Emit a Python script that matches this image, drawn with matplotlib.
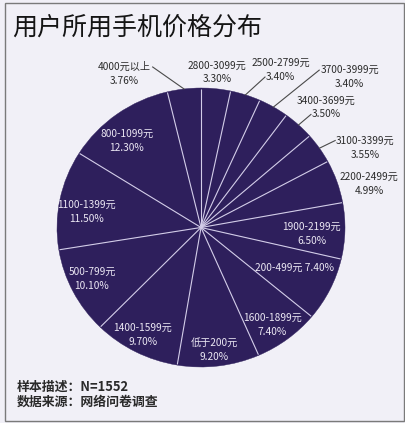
import matplotlib
matplotlib.use('Agg')
import matplotlib.pyplot as plt
from matplotlib.patches import Rectangle
from matplotlib.lines import Line2D
from matplotlib.transforms import offset_copy
import numpy as np

plt.rcParams['font.family'] = ['Noto Sans CJK SC', 'DejaVu Sans']

# ---------------- data ----------------
title = '用户所用手机价格分布'
categories = ['2800-3099元', '2500-2799元', '3700-3999元', '3400-3699元', '3100-3399元',
              '2200-2499元', '1900-2199元', '200-499元', '1600-1899元', '低于200元',
              '1400-1599元', '500-799元', '1100-1399元', '800-1099元', '4000元以上']
shares = [3.30, 3.40, 3.40, 3.50, 3.55, 4.99, 6.50, 7.40, 7.40, 9.20,
          9.70, 10.10, 11.50, 12.30, 3.76]
notes = ['样本描述：N=1552', '数据来源：网络问卷调查']

# ---------------- layout (label placement) ----------------
label_r = [1.117, 1.257, 1.492, 1.225, 1.278, 1.209, 0.772, 0.714, 0.855, 0.883,
           0.870, 0.842, 0.800, 0.805, 1.223]
label_dang = [-0.2, 8.1, 13.5, 2.7, 8.0, 4.2, 2.1, -2.5, 1.7, 1.2, 0.6, 1.4, -3.5, -4.0, -19.1]
single_line = [False] * 7 + [True] + [False] * 7
# leader: (line index, side) or None
leaders = [None, (1, 'left'), (0, 'left'), (1, 'left'), (0, 'left'), None,
           None, None, None, None, None, None, None, None, (0, 'right')]

W, H = 406, 423
fig = plt.figure(figsize=(W / 100, H / 100), dpi=100)
fig.patch.set_facecolor('#f1f0f7')

fig.patches.append(Rectangle((5 / W, 2 / H), 399 / W, 418 / H, transform=fig.transFigure,
                             fill=False, edgecolor='#7a7a7a', lw=1.0))

fig.text(12 / W, 1 - 28 / H, title, fontsize=18, color='#151515', ha='left', va='center')

for i, t in enumerate(notes):
    fig.text(17 / W, 1 - (387 + 15 * i) / H, t, fontsize=9.3, fontweight='bold',
             color='#2a2a2a', ha='left', va='center')

# pie axes (pixel box 57..345 x 88..367)
ax = fig.add_axes([57 / W, (H - 367) / H, 288 / W, 279 / H])
pie_color = '#2e1f5c'
ax.pie(shares, startangle=90, counterclock=False, radius=1,
       colors=[pie_color] * len(shares),
       wedgeprops=dict(edgecolor=pie_color, linewidth=0.3))
ax.set_aspect('auto')
ax.set_xlim(-1, 1)
ax.set_ylim(-1, 1)
ax.axis('off')

cum = np.cumsum(shares)
# separator lines between slices
for c in np.concatenate([[0], cum[:-1]]):
    th = np.deg2rad(360 * c / 100.0)
    ax.plot([0, 0.995 * np.sin(th)], [0, 0.995 * np.cos(th)], color='#d2cce8', lw=0.8,
            solid_capstyle='butt')

mids_cw = 360 * (cum - np.array(shares) / 2) / 100.0

fs = 7.3
texts = []
for i, (cat, s) in enumerate(zip(categories, shares)):
    inside = label_r[i] < 1
    col = '#ece8f4' if inside else '#2b2b2b'
    th = np.deg2rad(mids_cw[i] + label_dang[i])
    x, y = label_r[i] * np.sin(th), label_r[i] * np.cos(th)
    pct = f'{s:.2f}%'
    if single_line[i]:
        t = ax.text(x, y, f'{cat} {pct}', fontsize=fs, color=col, ha='center', va='center',
                    clip_on=False)
        texts.append([t])
    else:
        t1 = ax.text(x, y, cat, fontsize=fs, color=col, ha='center', va='center', clip_on=False,
                     transform=offset_copy(ax.transData, fig=fig, x=0, y=7, units='dots'))
        t2 = ax.text(x, y, pct, fontsize=fs, color=col, ha='center', va='center', clip_on=False,
                     transform=offset_copy(ax.transData, fig=fig, x=0, y=-7, units='dots'))
        texts.append([t1, t2])

fig.canvas.draw()
renderer = fig.canvas.get_renderer()
for i, ld in enumerate(leaders):
    if ld is None:
        continue
    line_idx, side = ld
    bb = texts[i][line_idx].get_window_extent(renderer)
    if side == 'left':
        sx = bb.x0 - 1
    else:
        sx = bb.x1 + 2
    sy = (bb.y0 + bb.y1) / 2
    th = np.deg2rad(mids_cw[i])
    ex, ey = ax.transData.transform((np.sin(th), np.cos(th)))
    fw, fh = fig.bbox.width, fig.bbox.height
    fig.lines.append(Line2D([sx / fw, ex / fw], [sy / fh, ey / fh], transform=fig.transFigure,
                            color='#4a4a4a', lw=0.8))

fig.savefig('out.png', dpi=100, facecolor=fig.get_facecolor())
